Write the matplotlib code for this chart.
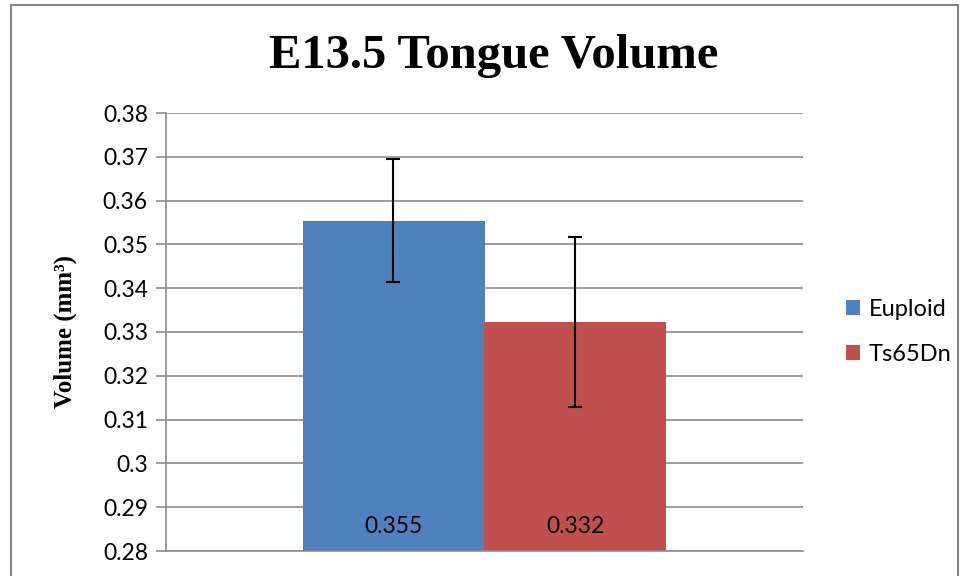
import matplotlib.pyplot as plt
import numpy as np
from matplotlib.patches import Rectangle

# данные
groups = ['Euploid', 'Ts65Dn']
volumes = [0.3554, 0.3323]
errors = [0.0140, 0.0194]
value_labels = ['0.355', '0.332']
colors = ['#4F81BD', '#C0504D']
yticks = [0.28, 0.29, 0.30, 0.31, 0.32, 0.33, 0.34, 0.35, 0.36, 0.37, 0.38]
ytick_labels = ['0.28', '0.29', '0.3', '0.31', '0.32', '0.33', '0.34', '0.35', '0.36', '0.37', '0.38']

W, H = 964, 576
fig = plt.figure(figsize=(W / 100, H / 100), dpi=100)
ax = fig.add_axes([166 / W, 1 - 551 / H, (803 - 166) / W, (551 - 113) / H])

# рамка вокруг диаграммы
fig.patches.append(Rectangle((11 / W, -0.1), (958 - 11) / W, 1.1 - 5 / H,
                             transform=fig.transFigure, fill=False,
                             edgecolor='#868686', linewidth=1.5))

width = 182 / 637
x = np.array([-0.5, 0.5]) * width
for i in range(2):
    ax.bar(x[i], volumes[i] - 0.28, width, bottom=0.28, color=colors[i],
           label=groups[i], zorder=2)
    ax.errorbar(x[i], volumes[i], yerr=errors[i], fmt='none', ecolor='black',
                elinewidth=1.5, capsize=5, capthick=1.5, zorder=3)
    ax.text(x[i], 0.2855, value_labels[i], ha='center', va='center',
            fontsize=16.5, family='Lato', zorder=4)

ax.set_xlim(-0.5, 0.5)
ax.set_ylim(0.28, 0.38)
ax.set_yticks(yticks)
ax.set_yticklabels(ytick_labels, family='Lato', fontsize=16.5)
ax.set_xticks([])
ax.yaxis.grid(True, color='#8c8c8c', linewidth=1.2, zorder=0)
ax.set_axisbelow(True)
ax.tick_params(axis='y', length=7, color='#8c8c8c', width=1.2, pad=6)
for s in ['top', 'right']:
    ax.spines[s].set_visible(False)
ax.spines['left'].set_color('#8c8c8c')
ax.spines['bottom'].set_color('#8c8c8c')
ax.spines['left'].set_linewidth(1.2)
ax.spines['bottom'].set_linewidth(1.2)

ax.set_ylabel('Volume (mm³)', family='Liberation Serif',
              fontweight='bold', fontsize=18)
ax.yaxis.set_label_coords((77 - 166) / 637, 0.5)

fig.text(494 / W, 1 - 56 / H, 'E13.5 Tongue Volume', ha='center', va='center',
         family='Liberation Serif', fontweight='bold', fontsize=35)

ax.legend(loc='center left', bbox_to_anchor=((846 - 166) / 637, 0.5), frameon=False,
          prop={'family': 'Lato', 'size': 17}, handlelength=0.6, handleheight=0.6,
          labelspacing=1.0, handletextpad=0.35, borderpad=0, borderaxespad=0)

plt.savefig('out.png', dpi=100)
